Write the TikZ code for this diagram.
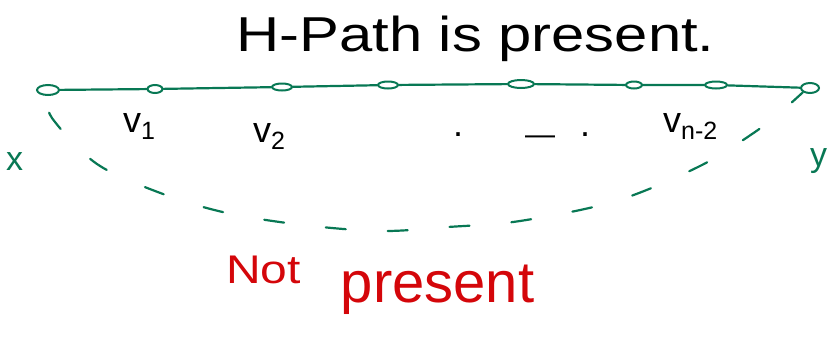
\documentclass[tikz,border=0pt]{standalone}
\usepackage{fontspec}
\setmainfont{Liberation Sans}
\usetikzlibrary{shapes.geometric}
\definecolor{pgreen}{RGB}{8,120,84}
\definecolor{pred}{RGB}{212,6,10}
\newcommand\mysubtxt[1]{\raisebox{-7pt}{\fontsize{25}{25}\selectfont #1}}
\tikzset{
  vtx/.style={ellipse, draw=pgreen, line width=2pt, inner sep=0pt},
  gline/.style={draw=pgreen, line width=2.2pt, line cap=round},
  gdash/.style={draw=pgreen, line width=2.2pt, line cap=round, dash pattern=on 20pt off 42pt, dash phase=45pt},
  vlab/.style={font=\fontsize{36}{36}\selectfont, text=black, inner sep=0pt},
  glab/.style={font=\fontsize{34}{34}\selectfont, text=pgreen, inner sep=0pt},
}
\begin{document}
\begin{tikzpicture}[x=1pt,y=-1pt]
\useasboundingbox (0,0) rectangle (827,338);
% title
\node[anchor=base west, inner sep=0pt] (title) at (236,51)
  {\scalebox{1.22}[1]{\fontsize{49}{49}\selectfont H-Path is present.}};
% path vertices
\node[vtx, minimum width=22pt, minimum height=10pt] (c0) at (48,90) {};
\node[vtx, minimum width=15pt, minimum height=8pt] (c1) at (155,89) {};
\node[vtx, minimum width=20pt, minimum height=7pt] (c2) at (282,87) {};
\node[vtx, minimum width=20pt, minimum height=7pt] (c3) at (388,85) {};
\node[vtx, minimum width=26pt, minimum height=8pt] (c4) at (521,84) {};
\node[vtx, minimum width=16pt, minimum height=7pt] (c5) at (634,85) {};
\node[vtx, minimum width=22pt, minimum height=7pt] (c6) at (716,85) {};
\node[vtx, minimum width=18pt, minimum height=10pt] (c7) at (810,88) {};
\draw[gline] (c0) -- (c1) -- (c2) -- (c3) -- (c4) -- (c5) -- (c6) -- (c7);
% labels
\node[vlab, anchor=base west] (l1) at (123,132) {v\mysubtxt{1}};
\node[vlab, anchor=base west] (l2) at (253,142) {v\mysubtxt{2}};
\node[vlab, anchor=base west] (l3) at (663,132) {v\mysubtxt{n-2}};
\node[vlab, anchor=base] (d1) at (458,136) {.};
\node[vlab, anchor=base] (d2) at (540,144) {\fontsize{30}{30}\selectfont —};
\node[vlab, anchor=base] (d3) at (585,136) {.};
\node[glab, anchor=base west] (x) at (6,170) {x};
\node[glab, anchor=base west] (y) at (810,166) {y};
% dashed non-path curve
\draw[gdash] plot[smooth, tension=0.55] coordinates {(c0.south) (52,118) (97,164) (163,194) (227,213) (303,225) (381,231) (448,227) (520,221) (616,201) (700,166) (755,132) (783,110) (c7.south west)};
% red text
\node[anchor=base west, inner sep=0pt, text=pred] (np) at (226,302)
  {\raisebox{19pt}{\scalebox{1.2}[1]{\fontsize{40}{40}\selectfont Not}}\hspace{40pt}\scalebox{1.0}[1]{\fontsize{58}{58}\selectfont present}};
\end{tikzpicture}
\end{document}
